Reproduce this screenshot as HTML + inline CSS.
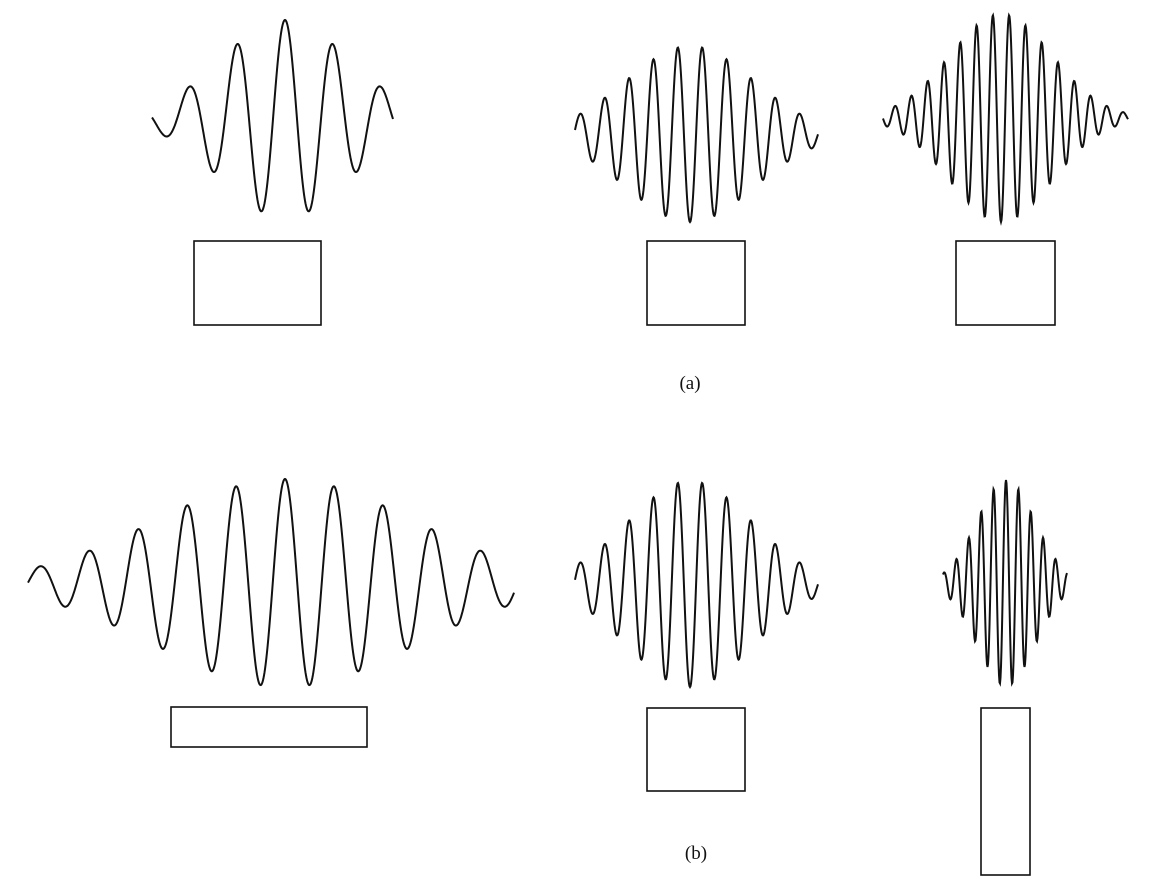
<!DOCTYPE html>
<html><head><meta charset="utf-8"><style>
body{margin:0;background:#fff;}
svg{display:block}
text{font-family:"Liberation Serif",serif;font-size:19px;fill:#111}
</style></head><body>
<svg id="fig" width="1155" height="892" viewBox="0 0 1155 892">
<g id="waves"></g>
<g id="boxes"></g>
<text x="690" y="389" text-anchor="middle">(a)</text>
<text x="696" y="859" text-anchor="middle">(b)</text>
</svg>
<script>
// wavelet parameters (row a: 3, row b: 3)
const waveNames = ['a1','a2','a3','b1','b2','b3'];
const centers = [285,690,1001,285,690,1006];
const baselines = [119,134,118,583,584,583];
const amplitudes = [99,88,104,104,103,103];
const periods = [48,24.4,16.3,49,24.4,12.4];
const sigmas = [64,64,51,128,62,29];
const phases = [0,Math.PI,Math.PI,0,Math.PI,0];
const xStarts = [152,575,883,28,575,943];
const xEnds = [393,818,1128,514,818,1067];
// boxes [x0,y0,x1,y1]
const boxX0 = [194,647,956,171,647,981];
const boxY0 = [241,241,241,707,708,708];
const boxX1 = [321,745,1055,367,745,1030];
const boxY1 = [325,325,325,747,791,875];
const NS='http://www.w3.org/2000/svg';
const wg=document.getElementById('waves'), bg=document.getElementById('boxes');
for(let i=0;i<waveNames.length;i++){
  let d='';
  for(let x=xStarts[i];x<=xEnds[i];x+=0.5){
    const t=x-centers[i];
    const y=baselines[i]-amplitudes[i]*Math.exp(-t*t/(2*sigmas[i]*sigmas[i]))*Math.cos(2*Math.PI*t/periods[i]+phases[i]);
    d+=(d?'L':'M')+x.toFixed(1)+' '+y.toFixed(1);
  }
  const p=document.createElementNS(NS,'path');
  p.setAttribute('d',d);p.setAttribute('fill','none');p.setAttribute('stroke','#111');p.setAttribute('stroke-width','2');
  
  
  wg.appendChild(p);
  const r=document.createElementNS(NS,'rect');
  r.setAttribute('x',boxX0[i]);r.setAttribute('y',boxY0[i]);
  r.setAttribute('width',boxX1[i]-boxX0[i]);r.setAttribute('height',boxY1[i]-boxY0[i]);
  r.setAttribute('fill','none');r.setAttribute('stroke','#111');r.setAttribute('stroke-width','1.6');
  
  
  bg.appendChild(r);
}
</script>
</body></html>
